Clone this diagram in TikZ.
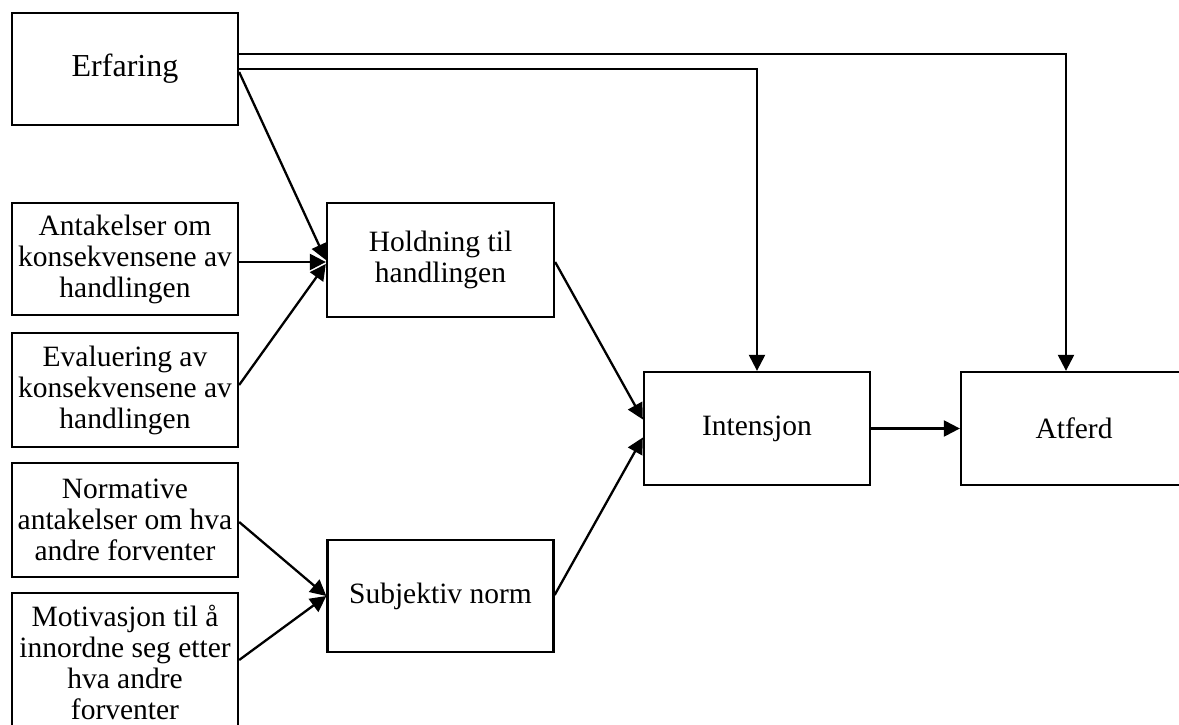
\documentclass[tikz,border=0pt]{standalone}
\usepackage{fontspec}
\setmainfont{Liberation Serif}
\usetikzlibrary{arrows.meta,calc}

\begin{document}
\begin{tikzpicture}[x=1pt,y=-1pt,
  box/.style={draw=black, line width=2.3pt, minimum width=226pt, minimum height=113pt,
    align=center, inner sep=2pt,
    font=\fontsize{29.5pt}{31pt}\selectfont},
  arr/.style={draw=black, line width=2.3pt, line join=miter,
    -{Triangle[length=16pt,width=16pt]}}]

\useasboundingbox (0,0) rectangle (1179,725);

% boxes on the left
\node[box, minimum height=112pt, font=\fontsize{32pt}{34pt}\selectfont] (erf) at (125,69) {Erfaring};
\node[box, minimum height=112pt] (ant) at (125,259) {Antakelser om\\konsekvensene av\\handlingen};
\node[box, minimum height=114pt] (eva) at (125,390) {Evaluering av\\konsekvensene av\\handlingen};
\node[box, minimum height=114pt] (nor) at (125,520) {Normative\\antakelser om hva\\andre forventer};
\node[box, minimum height=138pt] (mot) at (125,662) {Motivasjon til å\\innordne seg etter\\hva andre\\forventer};

% middle column
\node[box, minimum width=227pt, minimum height=114pt] (hol) at (440.5,260) {Holdning til\\handlingen};
\node[box, minimum height=112pt] (sub) at (440.5,596) {Subjektiv norm};

% right column
\node[box] (int) at (757,428.5)  {Intensjon};
\node[box] (atf) at (1074,428.5) {Atferd};

% connectors
\draw[arr] ([yshift=15pt]erf.east) -| ($(atf.north)+(-8,0)$);
\draw[arr] (erf.east) -| (int.north);
\draw[arr] ($(erf.east)+(0,3)$) -- (hol.west);
\draw[arr] ($(ant.east)+(0,3)$) -- ($(hol.west)+(0,2)$);
\draw[arr] ($(eva.east)+(0,-5)$) -- ($(hol.west)+(0,4)$);
\draw[arr] ($(nor.east)+(0,2)$) -- (sub.west);
\draw[arr] ($(mot.east)+(0,-2)$) -- (sub.west);
\draw[arr] ($(hol.east)+(0,2)$) -- ($(int.west)+(0,-9)$);
\draw[arr] ($(sub.east)+(0,-1)$) -- ($(int.west)+(0,9)$);
\draw[arr] (int.east) -- (atf.west);
\end{tikzpicture}
\end{document}
